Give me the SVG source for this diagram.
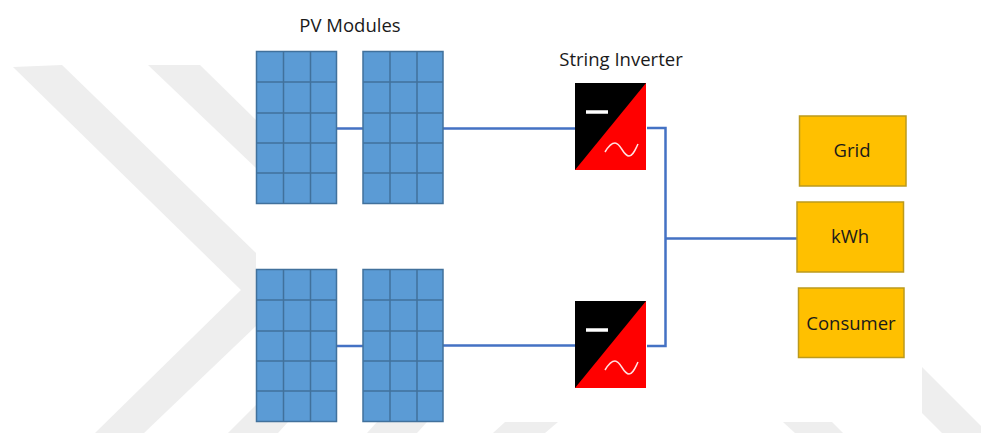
<svg xmlns="http://www.w3.org/2000/svg" width="981" height="433" viewBox="0 0 981 433">
<defs>
<style>
.wm{fill:#eeeeee}
.pv{fill:#5b9bd5;stroke:#41719c;stroke-width:1.500}
.grid{stroke:#41719c;stroke-width:1.500;fill:none}
.wire{fill:none;stroke:#4472c4;stroke-width:2.500}
.box{fill:#ffc000;stroke:#bc9a1c;stroke-width:1.500}
text{font-family:"Open Sans","Noto Sans","Liberation Sans",sans-serif;font-size:18.500px;fill:#1a1a1a;text-anchor:middle}
</style>
<g id="module">
<rect class="pv" width="80" height="152"/>
<path class="grid" d="M27 0V152M54 0V152M0 30.500H80M0 61.500H80M0 91.500H80M0 121.500H80"/>
</g>
<g id="inv">
<rect width="71" height="87" fill="#ff0000"/>
<path d="M0 87L71 0H0Z" fill="#000"/>
<path d="M11 29H33" stroke="#fff" stroke-width="3.500" fill="none"/>
<path d="M30 69C33 64 36 60 40 60C46 60 48 73 54 73C58 73 60 67 63 61" stroke="#ffe0e0" stroke-width="1.500" fill="none"/>
</g>
</defs>
<rect width="981" height="433" fill="#fff"/>
<g id="watermark">
<path class="wm" d="M13 67L62 65L256 253V326L144 433H95L241 290Z"/>
<path class="wm" d="M148 65H200L256 120V168Z"/>
<path class="wm" d="M228 433L256 405V422H288L278 433Z"/>
<path class="wm" d="M367 433L377 422H427L417 433Z"/>
<path class="wm" d="M493 433L505 422H558L545 433Z"/>
<path class="wm" d="M783 422H832L843 433H795Z"/>
<path class="wm" d="M922 367L981 426V433H942L922 413Z"/>
</g>
<g id="connectors">
<path class="wire" d="M337 128.500H363M443 128.500H575M337 346H363M443 345.500H575M647 128H665.500V346H647M665.500 238.500H797"/>
</g>
<g id="pv-top-left"><use href="#module" x="256.500" y="51.500"/></g>
<g id="pv-top-right"><use href="#module" x="363" y="51.500"/></g>
<g id="pv-bottom-left"><use href="#module" x="256.500" y="269.500"/></g>
<g id="pv-bottom-right"><use href="#module" x="363" y="269.500"/></g>
<g id="inverter-top"><use href="#inv" x="575" y="83"/></g>
<g id="inverter-bottom"><use href="#inv" x="575" y="301"/></g>
<g id="grid"><rect class="box" x="799.500" y="116" width="106.500" height="70"/><text x="852" y="157">Grid</text></g>
<g id="kwh"><rect class="box" x="797" y="202" width="106.500" height="70"/><text x="850" y="243">kWh</text></g>
<g id="consumer"><rect class="box" x="798.500" y="288" width="105.500" height="69.500"/><text x="851" y="329.500">Consumer</text></g>
<text id="pv-label" x="350" y="31.500">PV Modules</text>
<text id="inverter-label" x="621" y="65.500">String Inverter</text>
</svg>
